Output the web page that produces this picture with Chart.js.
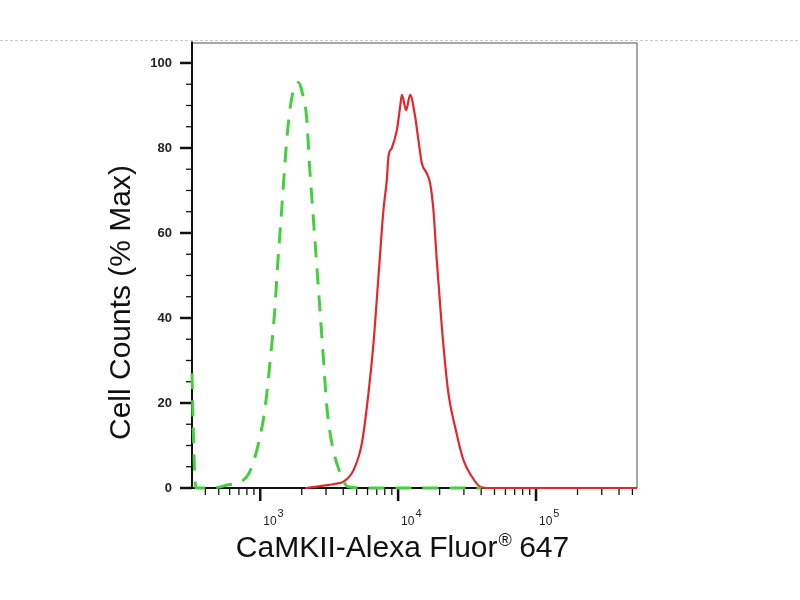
<!DOCTYPE html>
<html>
<head>
<meta charset="utf-8">
<script src="https://cdn.jsdelivr.net/npm/chart.js@4.4.1/dist/chart.umd.min.js"></script>
<style>
  html, body { margin: 0; padding: 0; background: #ffffff; }
  #wrap { width: 800px; height: 600px; }
</style>
</head>
<body>
<div id="wrap"><canvas id="c" width="800" height="600"></canvas></div>
<script>
// ---- data ----
const isotypeX = [320, 328, 336, 345, 456, 574, 801, 972, 1087, 1182, 1270, 1335, 1436, 1517, 1578, 1698, 1897, 2006, 2173, 2276, 2433, 2575, 2723, 2878, 3043, 3309, 3802, 4345, 6000, 10000, 20000, 40000];
const isotypeY = [27, 12, 2, 0, 0, 0.7, 2.7, 10.5, 19.1, 30.1, 41.2, 52.1, 66.2, 77.2, 84, 92, 95.4, 93.3, 87, 76, 63, 52, 41, 30, 19, 10.5, 3.5, 0.3, 0, 0, 0, 0];

const stainedX = [2119, 2422, 2960, 3500, 4018, 4748, 5458, 6095, 6625, 7200, 7826, 8280, 8511, 9000, 9790, 10340, 10650, 11430, 12220, 13280, 14030, 14860, 16150, 17060, 18030, 19070, 20730, 23140, 25880, 29730, 34200, 39300, 43400, 539000];
const stainedY = [0, 0.2, 0.6, 1.0, 1.5, 4.2, 10.5, 22.3, 34, 49.7, 65.4, 72.5, 78, 80, 84.2, 89.7, 92.5, 88.9, 92.5, 87.4, 81.9, 76.4, 74, 71.7, 65.4, 53.6, 38, 22.3, 14.4, 6.6, 2.7, 0.3, 0, 0];

const xMajorTicks = [1000, 10000, 100000];
const xTickBase = '10';
const xTickExponents = ['3', '4', '5'];
const xMinorTicks = [400, 500, 600, 700, 800, 900, 2000, 3000, 4000, 5000, 6000, 7000, 8000, 9000,
                     20000, 30000, 40000, 50000, 60000, 70000, 80000, 90000,
                     200000, 300000, 400000, 500000];
const yTickLabels = ['0', '20', '40', '60', '80', '100'];

const xTitleMain = 'CaMKII-Alexa Fluor';
const xTitleMark = '®';
const xTitleTail = ' 647';
const yTitle = 'Cell Counts (% Max)';

// ---- chart ----
const toPts = (xs, ys) => xs.map((x, i) => ({ x: x, y: ys[i] }));
const FONT = '"Liberation Sans", Arial, sans-serif';

const framePlugin = {
  id: 'frame',
  beforeDatasetsDraw(chart) {
    const { ctx, chartArea: a, scales } = chart;
    ctx.save();
    // dashed separator line across the page
    ctx.strokeStyle = '#c8c8c8';
    ctx.lineWidth = 1;
    ctx.setLineDash([3, 2]);
    ctx.beginPath();
    ctx.moveTo(0, a.top - 2.5);
    ctx.lineTo(chart.width, a.top - 2.5);
    ctx.stroke();
    ctx.setLineDash([]);
    // top + right grey frame
    ctx.strokeStyle = '#8c8c8c';
    ctx.lineWidth = 1.5;
    ctx.beginPath();
    ctx.moveTo(a.left, a.top);
    ctx.lineTo(a.right, a.top);
    ctx.lineTo(a.right, a.bottom);
    ctx.stroke();
    // left + bottom black axes
    ctx.strokeStyle = '#111';
    ctx.lineWidth = 2;
    ctx.beginPath();
    ctx.moveTo(a.left, a.top - 1.5);
    ctx.lineTo(a.left, a.bottom);
    ctx.lineTo(a.right, a.bottom);
    ctx.stroke();
    // y ticks
    const ys = scales.y;
    ys.ticks.forEach(t => {
      const p = ys.getPixelForValue(t.value);
      const major = t.value % 20 === 0;
      ctx.lineWidth = major ? 2.5 : 1.3;
      ctx.beginPath();
      ctx.moveTo(a.left - (major ? 12 : 6), p);
      ctx.lineTo(a.left, p);
      ctx.stroke();
    });
    // x ticks + labels (10 with raised exponent)
    const xs = scales.x;
    xs.ticks.forEach(t => {
      const p = xs.getPixelForValue(t.value);
      const mi = xMajorTicks.indexOf(t.value);
      const major = mi >= 0;
      ctx.lineWidth = major ? 2.5 : 1.3;
      ctx.beginPath();
      ctx.moveTo(p, a.bottom);
      ctx.lineTo(p, a.bottom + (major ? 13 : 7));
      ctx.stroke();
      if (major) {
        ctx.fillStyle = '#222';
        ctx.textBaseline = 'alphabetic';
        ctx.textAlign = 'left';
        ctx.font = '12px ' + FONT;
        const bx = p + 3;
        ctx.fillText(xTickBase, bx, a.bottom + 37);
        const w = ctx.measureText(xTickBase).width;
        ctx.font = '11px ' + FONT;
        ctx.fillText(xTickExponents[mi], bx + w + 1, a.bottom + 29);
      }
    });
    // axis titles
    ctx.fillStyle = '#111';
    ctx.textBaseline = 'alphabetic';
    ctx.font = '30px ' + FONT;
    const wMain = ctx.measureText(xTitleMain).width;
    const wTail = ctx.measureText(xTitleTail).width;
    ctx.font = '18px ' + FONT;
    const wMark = ctx.measureText(xTitleMark).width;
    const total = wMain + wMark + wTail;
    let sx = (a.left + a.right) / 2 - 12 - total / 2;
    const by = a.bottom + 69;
    ctx.textAlign = 'left';
    ctx.font = '30px ' + FONT;
    ctx.fillText(xTitleMain, sx, by);
    ctx.font = '18px ' + FONT;
    ctx.fillText(xTitleMark, sx + wMain + 1, by - 11);
    ctx.font = '30px ' + FONT;
    ctx.fillText(xTitleTail, sx + wMain + wMark, by);

    ctx.save();
    ctx.translate(a.left - 62, (a.top + a.bottom) / 2 + 37);
    ctx.rotate(-Math.PI / 2);
    ctx.textAlign = 'center';
    ctx.font = '30px ' + FONT;
    ctx.fillText(yTitle, 0, 0);
    ctx.restore();

    ctx.restore();
  }
};

new Chart(document.getElementById('c'), {
  type: 'line',
  data: {
    datasets: [
      {
        label: 'Isotype control',
        data: toPts(isotypeX, isotypeY),
        borderColor: '#45cf3f',
        borderWidth: 3,
        borderDash: [16, 11],
        pointRadius: 0,
        fill: false,
        cubicInterpolationMode: 'monotone',
        clip: false
      },
      {
        label: 'CaMKII',
        data: toPts(stainedX, stainedY),
        borderColor: '#e5262b',
        borderWidth: 2.2,
        pointRadius: 0,
        fill: false,
        cubicInterpolationMode: 'monotone',
        clip: false
      }
    ]
  },
  options: {
    responsive: false,
    animation: false,
    devicePixelRatio: 1,
    layout: { padding: { left: 101, right: 163, top: 43, bottom: 40 } },
    plugins: { legend: { display: false }, tooltip: { enabled: false } },
    scales: {
      x: {
        type: 'logarithmic',
        min: 320,
        max: 540000,
        grid: { display: false, drawTicks: false, tickLength: 0 },
        border: { display: false },
        afterBuildTicks(s) {
          s.ticks = xMajorTicks.concat(xMinorTicks).sort((a, b) => a - b).map(v => ({ value: v, major: xMajorTicks.includes(v) }));
        },
        afterFit(s) { s.height = 72; },
        ticks: { display: false, autoSkip: false },
        title: { display: false }
      },
      y: {
        min: 0,
        max: 104.7,
        grid: { display: false, drawTicks: false, tickLength: 0 },
        border: { display: false },
        afterBuildTicks(s) {
          const t = [];
          for (let v = 0; v <= 100; v += 5) t.push({ value: v });
          s.ticks = t;
        },
        afterFit(s) { s.width = 91; },
        ticks: {
          autoSkip: false,
          padding: 20,
          color: '#222',
          font: { family: 'Liberation Sans', size: 13, weight: 'bold' },
          callback(v) {
            return v % 20 === 0 ? yTickLabels[v / 20] : '';
          }
        },
        title: { display: false }
      }
    }
  },
  plugins: [framePlugin]
});
</script>
</body>
</html>
